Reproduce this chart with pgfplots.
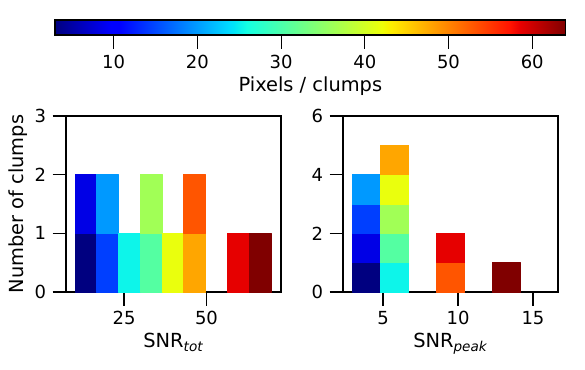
\documentclass[border=0pt]{standalone}
\usepackage{fontspec}
\setmainfont{DejaVu Sans}
\usepackage{pgfplots}
\pgfplotsset{compat=1.18}
\pgfplotsset{
  colormap={mpljet}{rgb(0pt)=(0,0,0.5) rgb(22pt)=(0,0,1) rgb(25pt)=(0,0,1) rgb(68pt)=(0,0.86,1) rgb(70pt)=(0,0.9,0.968) rgb(75pt)=(0.081,1,0.887) rgb(128pt)=(0.935,1,0.032) rgb(130pt)=(0.968,0.963,0) rgb(132pt)=(1,0.926,0) rgb(178pt)=(1,0.074,0) rgb(182pt)=(0.909,0,0) rgb(200pt)=(0.5,0,0)},
  every axis/.append style={
    tick label style={font=\fontsize{18}{21}\selectfont},
    label style={font=\fontsize{19.4}{23}\selectfont},
    /pgf/number format/assume math mode=true,
    axis line style={line width=1.1pt},
    every tick/.style={line width=1.1pt, black},
    tick align=outside,
    major tick length=13.5pt,
    tick pos=left,
    xticklabel shift=2.5pt,
    yticklabel shift=3pt,
    xlabel shift=1.5pt,
    colormap name=mpljet, point meta min=3, point meta max=64,
  },
  cells/.style={patch, patch type=rectangle, shader=flat, point meta=explicit},
}
\begin{document}
\begin{tikzpicture}
\path[use as bounding box] (0,0) rectangle (585pt,369pt);
% colour bar
\begin{axis}[name=C, at={(55pt,334pt)}, anchor=south west, scale only axis,
  width=510.7pt, height=15pt,
  xmin=3, xmax=64, ymin=0, ymax=1,
  xtick={10,20,...,60}, ytick=\empty,
  major tick length=14pt,
  xlabel={Pixels / clumps},
  axis on top,
]
\addplot[patch, patch type=rectangle, shader=interp, point meta=explicit] table[meta=c] {
x y c
3 0 3
9.71 0 9.71
9.71 1 9.71
3 1 3
9.71 0 9.71
10.625 0 10.625
10.625 1 10.625
9.71 1 9.71
10.625 0 10.625
23.74 0 23.74
23.74 1 23.74
10.625 1 10.625
23.74 0 23.74
24.35 0 24.35
24.35 1 24.35
23.74 1 23.74
24.35 0 24.35
25.875 0 25.875
25.875 1 25.875
24.35 1 24.35
25.875 0 25.875
42.04 0 42.04
42.04 1 42.04
25.875 1 25.875
42.04 0 42.04
42.65 0 42.65
42.65 1 42.65
42.04 1 42.04
42.65 0 42.65
43.26 0 43.26
43.26 1 43.26
42.65 1 42.65
43.26 0 43.26
57.29 0 57.29
57.29 1 57.29
43.26 1 43.26
57.29 0 57.29
58.51 0 58.51
58.51 1 58.51
57.29 1 57.29
58.51 0 58.51
64 0 64
64 1 64
58.51 1 58.51
};
\end{axis}
\begin{axis}[name=L, at={(66pt,77pt)}, anchor=south west, scale only axis,
  width=215pt, height=176pt,
  xmin=7.4, xmax=72.6, ymin=0, ymax=3,
  xtick={25,50}, ytick={0,1,2,3},
  xlabel={SNR\textsubscript{\textit{tot}}}, ylabel={Number of clumps},
]
\addplot[cells] table[meta=c] {
x y c
10.04 0 3
16.65 0 3
16.65 1 3
10.04 1 3
10.04 1 8.4
16.65 1 8.4
16.65 2 8.4
10.04 2 8.4
16.65 0 14.4
23.25 0 14.4
23.25 1 14.4
16.65 1 14.4
16.65 1 19.8
23.25 1 19.8
23.25 2 19.8
16.65 2 19.8
23.25 0 25.3
29.86 0 25.3
29.86 1 25.3
23.25 1 25.3
29.86 0 30.6
36.47 0 30.6
36.47 1 30.6
29.86 1 30.6
29.86 1 36.3
36.47 1 36.3
36.47 2 36.3
29.86 2 36.3
36.47 0 41.7
43.08 0 41.7
43.08 1 41.7
36.47 1 41.7
43.08 0 47.8
49.68 0 47.8
49.68 1 47.8
43.08 1 47.8
43.08 1 53
49.68 1 53
49.68 2 53
43.08 2 53
56.29 0 58.6
62.90 0 58.6
62.90 1 58.6
56.29 1 58.6
62.90 0 64
69.50 0 64
69.50 1 64
62.90 1 64
};
\end{axis}
\begin{axis}[name=R, at={(343pt,77pt)}, anchor=south west, scale only axis,
  width=215pt, height=176pt,
  xmin=2.33, xmax=16.67, ymin=0, ymax=6,
  xtick={5,10,15}, ytick={0,2,4,6},
  xlabel={SNR\textsubscript{\textit{peak}}},
]
\addplot[cells] table[meta=c] {
x y c
2.96 0 3
4.83 0 3
4.83 1 3
2.96 1 3
2.96 1 8.4
4.83 1 8.4
4.83 2 8.4
2.96 2 8.4
2.96 2 14.4
4.83 2 14.4
4.83 3 14.4
2.96 3 14.4
2.96 3 19.8
4.83 3 19.8
4.83 4 19.8
2.96 4 19.8
4.83 0 25.3
6.70 0 25.3
6.70 1 25.3
4.83 1 25.3
4.83 1 30.6
6.70 1 30.6
6.70 2 30.6
4.83 2 30.6
4.83 2 36.3
6.70 2 36.3
6.70 3 36.3
4.83 3 36.3
4.83 3 41.7
6.70 3 41.7
6.70 4 41.7
4.83 4 41.7
4.83 4 47.8
6.70 4 47.8
6.70 5 47.8
4.83 5 47.8
8.57 0 53
10.44 0 53
10.44 1 53
8.57 1 53
8.57 1 58.6
10.44 1 58.6
10.44 2 58.6
8.57 2 58.6
12.31 0 64
14.18 0 64
14.18 1 64
12.31 1 64
};
\end{axis}
\end{tikzpicture}
\end{document}
